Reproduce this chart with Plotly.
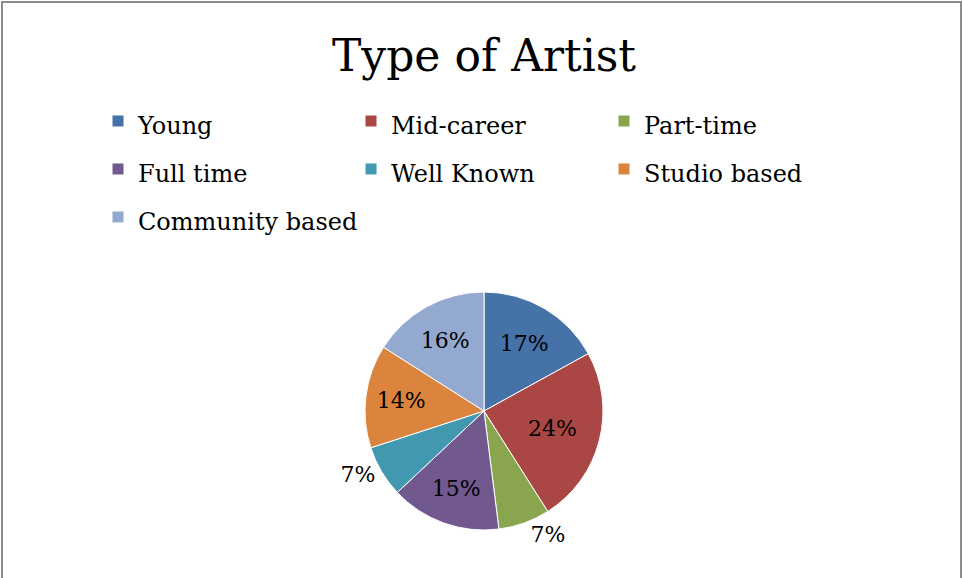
import plotly.graph_objects as go

labels = ["Young", "Mid-career", "Part-time", "Full time", "Well Known", "Studio based", "Community based"]
values = [17, 24, 7, 15, 7, 14, 16]
colors = ["#4572A7", "#AA4643", "#89A54E", "#71588F", "#4198AF", "#DB843D", "#93A9CF"]
text_positions = ["inside", "inside", "outside", "inside", "outside", "inside", "inside"]

W, H = 963, 578
cx, cy, r = 484, 411, 119

legend_labels = ["<span style='font-size:24px'>%s</span>" % s for s in labels]

fig = go.Figure()
fig.add_trace(go.Pie(
    labels=legend_labels,
    values=values,
    sort=False,
    direction="clockwise",
    rotation=0,
    marker=dict(colors=colors, line=dict(color="white", width=1)),
    textinfo="percent",
    texttemplate="%{percent:.0%}",
    textposition=text_positions,
    insidetextorientation="horizontal",
    textfont=dict(family="DejaVu Serif", size=22, color="black"),
    domain=dict(x=[(cx - r) / W, (cx + r) / W], y=[1 - (cy + r) / H, 1 - (cy - r) / H]),
    hoverinfo="label+percent",
))

fig.update_layout(
    width=W, height=H,
    margin=dict(l=0, r=0, t=0, b=0),
    paper_bgcolor="white",
    plot_bgcolor="white",
    font=dict(family="DejaVu Serif", color="black"),
    title=dict(text="Type of Artist", x=484 / W, xanchor="center", y=1 - 56 / H, yanchor="middle",
               font=dict(family="DejaVu Serif", size=44, color="black")),
    showlegend=True,
    legend=dict(
        orientation="h",
        x=98 / W, xanchor="left",
        y=1 - 92 / H, yanchor="top",
        entrywidth=208, entrywidthmode="pixels",
        font=dict(family="DejaVu Serif", size=34.6, color="black"),
        bgcolor="rgba(0,0,0,0)",
    ),
    shapes=[
        dict(type="rect", xref="paper", yref="paper", x0=2 / W, x1=(W - 2) / W, y0=-0.05, y1=1 - 2 / H,
             line=dict(color="#8c8c8c", width=2), fillcolor="rgba(0,0,0,0)", layer="above"),
    ],
)

fig.write_html("out.html", config={"displayModeBar": False},
               post_script="document.body.style.margin='0px';")
